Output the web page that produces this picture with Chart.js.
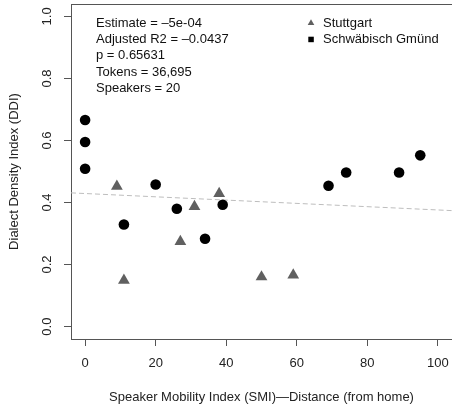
<!DOCTYPE html>
<html>
<head>
<meta charset="utf-8">
<script src="https://cdn.jsdelivr.net/npm/chart.js@4/dist/chart.umd.min.js"></script>
<style>
  html, body { margin: 0; padding: 0; background: #fff; }
  #wrap { width: 452px; height: 407px; }
</style>
</head>
<body>
<div id="wrap"><canvas id="ddi"></canvas></div>
<script>
// speaker mobility (x) vs dialect density (y), one array pair per town
const stuttgartSMI = [9, 11, 27, 31, 38, 50, 59]
const stuttgartDDI = [0.452, 0.149, 0.274, 0.387, 0.429, 0.160, 0.166]
const gmuendSMI = [0, 0, 0, 11, 20, 26, 34, 39, 69, 74, 89, 95]
const gmuendDDI = [0.666, 0.595, 0.509, 0.329, 0.458, 0.380, 0.283, 0.393, 0.454, 0.497, 0.497, 0.552]

// fitted line
const fitIntercept = 0.429
const fitSlope = -0.00053
const fitRange = [-4, 104]

const statLines = [
  'Estimate = \u20135e-04',
  'Adjusted R2 = \u20130.0437',
  'p = 0.65631',
  'Tokens = 36,695',
  'Speakers = 20',
]

const xTicks = [0, 20, 40, 60, 80, 100]
const yTicks = [0, 0.2, 0.4, 0.6, 0.8, 1.0]

const FONT = '13px "Liberation Sans", Arial, sans-serif'
const AXIS = '#555'

const toPoints = (xs, ys) => xs.map((x, i) => ({ x, y: ys[i] }))

// top edge of the box plus the rotated y tick labels
const frameAndLabels = {
  id: 'frameAndLabels',
  afterDraw(chart) {
    const { ctx, chartArea, scales } = chart
    ctx.save()
    ctx.strokeStyle = AXIS
    ctx.lineWidth = 1
    ctx.beginPath()
    ctx.moveTo(chartArea.left, chartArea.top + 0.5)
    ctx.lineTo(chartArea.right, chartArea.top + 0.5)
    ctx.stroke()

    ctx.fillStyle = '#222'
    ctx.font = FONT
    ctx.textAlign = 'center'
    ctx.textBaseline = 'middle'
    yTicks.forEach((v) => {
      const py = scales.y.getPixelForValue(v)
      ctx.save()
      ctx.translate(47, py)
      ctx.rotate(-Math.PI / 2)
      ctx.fillText(v.toFixed(1), 0, 0)
      ctx.restore()
    })
    ctx.restore()
  },
}

// regression summary and the town legend
const notes = {
  id: 'notes',
  afterDraw(chart) {
    const { ctx } = chart
    ctx.save()
    ctx.font = FONT
    ctx.fillStyle = '#111'
    ctx.textAlign = 'left'
    ctx.textBaseline = 'middle'
    statLines.forEach((t, i) => ctx.fillText(t, 96, 23 + i * 16.4))

    const sets = chart.data.datasets.filter((d) => d.type !== 'line')
    sets.forEach((d, i) => {
      const cy = 23 + i * 16.4
      ctx.fillStyle = d.backgroundColor
      if (d.pointStyle === 'triangle') {
        ctx.beginPath()
        ctx.moveTo(311, cy - 3.8)
        ctx.lineTo(314.3, cy + 2)
        ctx.lineTo(307.7, cy + 2)
        ctx.closePath()
        ctx.fill()
      } else {
        ctx.fillRect(308.3, cy - 2.7, 5.5, 5.5)
      }
      ctx.fillStyle = '#111'
      ctx.fillText(d.label, 323, cy)
    })
    ctx.restore()
  },
}

new Chart(document.getElementById('ddi'), {
  type: 'scatter',
  data: {
    datasets: [
      {
        label: 'Stuttgart',
        data: toPoints(stuttgartSMI, stuttgartDDI),
        pointStyle: 'triangle',
        pointRadius: 6.8,
        backgroundColor: '#606060',
        borderColor: '#606060',
        borderWidth: 0,
      },
      {
        label: 'Schwäbisch Gmünd',
        data: toPoints(gmuendSMI, gmuendDDI),
        pointStyle: 'circle',
        pointRadius: 5.3,
        backgroundColor: '#000',
        borderColor: '#000',
        borderWidth: 0,
      },
      {
        type: 'line',
        label: 'fit',
        data: fitRange.map((x) => ({ x, y: fitIntercept + fitSlope * x })),
        borderColor: '#bdbdbd',
        borderWidth: 1,
        borderDash: [5, 3],
        pointRadius: 0,
        fill: false,
      },
    ],
  },
  options: {
    responsive: true,
    maintainAspectRatio: false,
    animation: false,
    layout: { autoPadding: false, padding: { top: 4, right: 0, left: 0, bottom: 0 } },
    plugins: { legend: { display: false }, tooltip: { enabled: false } },
    scales: {
      x: {
        type: 'linear',
        min: fitRange[0],
        max: fitRange[1],
        afterBuildTicks: (s) => { s.ticks = xTicks.map((value) => ({ value })) },
        afterFit: (s) => { s.height = 68; s.paddingLeft = 0; s.paddingRight = 0 },
        grid: { drawOnChartArea: false, drawTicks: true, tickLength: 7, color: AXIS },
        border: { display: true, color: AXIS, width: 1 },
        ticks: { color: '#222', font: { family: '"Liberation Sans", Arial', size: 13 }, padding: 10, maxRotation: 0 },
        title: {
          display: true,
          text: 'Speaker Mobility Index (SMI)\u2014Distance (from home)',
          color: '#222',
          font: { family: '"Liberation Sans", Arial', size: 13 },
          padding: { top: 0, bottom: 2 },
        },
      },
      y: {
        type: 'linear',
        min: -0.04,
        max: 1.04,
        afterBuildTicks: (s) => { s.ticks = yTicks.map((value) => ({ value })) },
        afterFit: (s) => { s.width = 71; s.paddingTop = 0; s.paddingBottom = 0 },
        grid: { drawOnChartArea: false, drawTicks: true, tickLength: 7, color: AXIS },
        border: { display: true, color: AXIS, width: 1 },
        ticks: { callback: () => '' },
        title: {
          display: true,
          text: 'Dialect Density Index (DDI)',
          color: '#222',
          font: { family: '"Liberation Sans", Arial', size: 13 },
          padding: { top: 7, bottom: 0 },
        },
      },
    },
  },
  plugins: [frameAndLabels, notes],
})
</script>
</body>
</html>
